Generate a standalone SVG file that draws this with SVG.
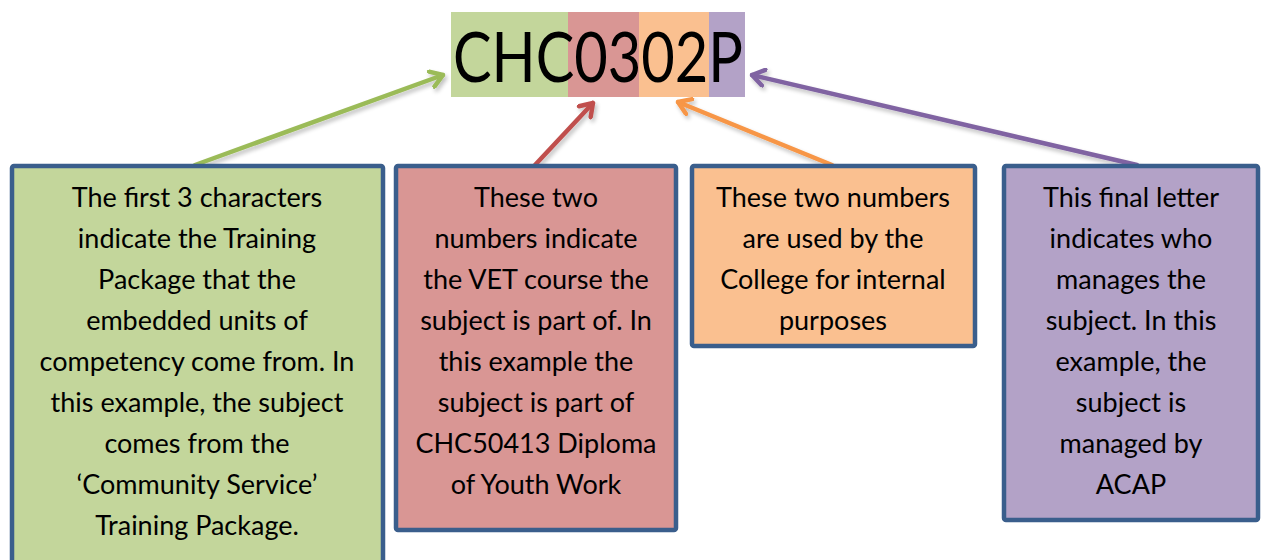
<svg xmlns="http://www.w3.org/2000/svg" width="1262" height="560" viewBox="0 0 1262 560">
<defs>
<style>
.box{stroke:#3A5E8C;stroke-width:4.5;}
.t{font-family:Lato,"Liberation Sans",sans-serif;font-size:27px;fill:#000;text-anchor:middle;}
.title{font-family:Lato,"Liberation Sans",sans-serif;font-size:70px;fill:#000;}
.c{fill:none;stroke-width:4.5;stroke-linecap:round;stroke-linejoin:round;}
</style>
<filter id="sh" x="-20%" y="-20%" width="140%" height="140%">
<feGaussianBlur in="SourceAlpha" stdDeviation="2"/>
<feOffset dx="2" dy="3" result="o"/>
<feComponentTransfer><feFuncA type="linear" slope="0.25"/></feComponentTransfer>
<feMerge><feMergeNode/><feMergeNode in="SourceGraphic"/></feMerge>
</filter>
<marker id="mG" viewBox="-14 -10 16 20" markerWidth="16" markerHeight="20" refX="0" refY="0" orient="auto" markerUnits="userSpaceOnUse"><path d="M-12,-8 L0,0 L-12,8" fill="none" stroke="#9BBB59" stroke-width="4.5" stroke-linecap="round" stroke-linejoin="round"/></marker>
<marker id="mR" viewBox="-14 -10 16 20" markerWidth="16" markerHeight="20" refX="0" refY="0" orient="auto" markerUnits="userSpaceOnUse"><path d="M-12,-8 L0,0 L-12,8" fill="none" stroke="#C0504D" stroke-width="4.5" stroke-linecap="round" stroke-linejoin="round"/></marker>
<marker id="mO" viewBox="-14 -10 16 20" markerWidth="16" markerHeight="20" refX="0" refY="0" orient="auto" markerUnits="userSpaceOnUse"><path d="M-12,-8 L0,0 L-12,8" fill="none" stroke="#F79646" stroke-width="4.5" stroke-linecap="round" stroke-linejoin="round"/></marker>
<marker id="mP" viewBox="-14 -10 16 20" markerWidth="16" markerHeight="20" refX="0" refY="0" orient="auto" markerUnits="userSpaceOnUse"><path d="M-12,-8 L0,0 L-12,8" fill="none" stroke="#8064A2" stroke-width="4.5" stroke-linecap="round" stroke-linejoin="round"/></marker>
</defs>
<rect width="1262" height="560" fill="#fff"/>
<g id="title">
<rect x="451" y="12" width="117" height="85" fill="#C3D69B"/>
<rect x="568" y="12" width="71" height="85" fill="#D99694"/>
<rect x="639" y="12" width="70" height="85" fill="#FAC090"/>
<rect x="709" y="12" width="36" height="85" fill="#B3A2C7"/>
<text class="title" x="453" y="82" textLength="290" lengthAdjust="spacingAndGlyphs">CHC0302P</text>
</g>
<g id="connectors" filter="url(#sh)">
<line class="c" stroke="#9BBB59" x1="195" y1="165" x2="443" y2="75" marker-end="url(#mG)"/>
<line class="c" stroke="#C0504D" x1="535" y1="165" x2="593" y2="103" marker-end="url(#mR)"/>
<line class="c" stroke="#F79646" x1="832" y1="165" x2="678" y2="102" marker-end="url(#mO)"/>
<line class="c" stroke="#8064A2" x1="1137" y1="165" x2="752" y2="75" marker-end="url(#mP)"/>
</g>
<g id="box1">
<rect class="box" x="12" y="166" width="371" height="410" rx="2" fill="#C3D69B"/>
<text class="t" y="207"><tspan x="197">The first 3 characters</tspan><tspan x="197" dy="41">indicate the Training</tspan><tspan x="197" dy="41">Package that the</tspan><tspan x="197" dy="41">embedded units of</tspan><tspan x="197" dy="41">competency come from. In</tspan><tspan x="197" dy="41">this example, the subject</tspan><tspan x="197" dy="41">comes from the</tspan><tspan x="197" dy="41">‘Community Service’</tspan><tspan x="197" dy="41">Training Package.</tspan></text>
</g>
<g id="box2">
<rect class="box" x="396" y="166" width="280" height="364" rx="2" fill="#D99694"/>
<text class="t" y="207"><tspan x="536">These two</tspan><tspan x="536" dy="41">numbers indicate</tspan><tspan x="536" dy="41">the VET course the</tspan><tspan x="536" dy="41">subject is part of. In</tspan><tspan x="536" dy="41">this example the</tspan><tspan x="536" dy="41">subject is part of</tspan><tspan x="536" dy="41">CHC50413 Diploma</tspan><tspan x="536" dy="41">of Youth Work</tspan></text>
</g>
<g id="box3">
<rect class="box" x="692" y="166" width="283" height="180" rx="2" fill="#FAC090"/>
<text class="t" y="207"><tspan x="833">These two numbers</tspan><tspan x="833" dy="41">are used by the</tspan><tspan x="833" dy="41">College for internal</tspan><tspan x="833" dy="41">purposes</tspan></text>
</g>
<g id="box4">
<rect class="box" x="1004" y="166" width="254" height="354" rx="2" fill="#B3A2C7"/>
<text class="t" y="207"><tspan x="1131">This final letter</tspan><tspan x="1131" dy="41">indicates who</tspan><tspan x="1131" dy="41">manages the</tspan><tspan x="1131" dy="41">subject. In this</tspan><tspan x="1131" dy="41">example, the</tspan><tspan x="1131" dy="41">subject is</tspan><tspan x="1131" dy="41">managed by</tspan><tspan x="1131" dy="41">ACAP</tspan></text>
</g>
</svg>
